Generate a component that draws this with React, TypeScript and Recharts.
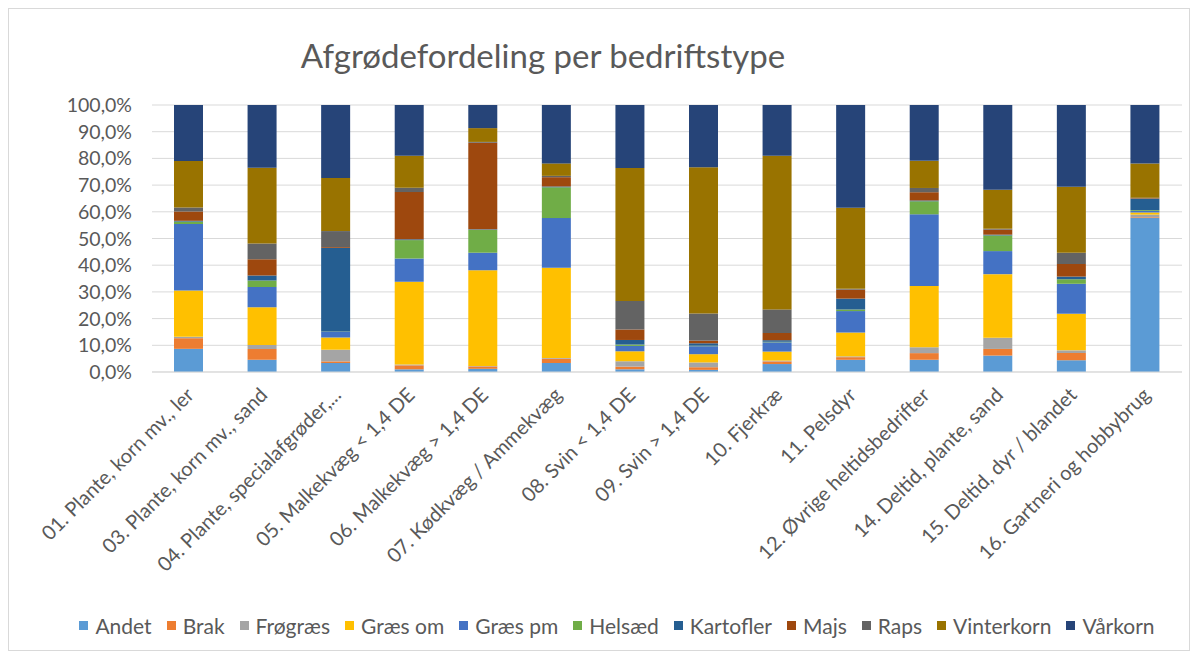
import React from 'react';
import { BarChart, Bar, XAxis, YAxis, CartesianGrid } from 'recharts';

const categories = [
  '01. Plante, korn mv., ler',
  '03. Plante, korn mv., sand',
  '04. Plante, specialafgrøder,...',
  '05. Malkekvæg < 1,4 DE',
  '06. Malkekvæg > 1,4 DE',
  '07. Kødkvæg / Ammekvæg',
  '08. Svin < 1,4 DE',
  '09. Svin > 1,4 DE',
  '10. Fjerkræ',
  '11. Pelsdyr',
  '12. Øvrige heltidsbedrifter',
  '14. Deltid, plante, sand',
  '15. Deltid, dyr / blandet',
  '16. Gartneri og hobbybrug',
];

// andel i procent, læst af figuren
const andet = [8.7, 4.6, 3.4, 1.0, 1.2, 3.4, 1.0, 0.8, 3.0, 4.6, 4.6, 6.2, 4.4, 58.0];
const brak = [4.0, 4.0, 0.6, 1.5, 0.9, 1.6, 1.0, 1.0, 1.0, 1.0, 2.5, 2.5, 2.7, 0.3];
const froegraes = [0.5, 1.5, 4.4, 0.3, 0.2, 0.3, 2.0, 1.8, 0.3, 0.3, 2.2, 4.2, 1.0, 1.0];
const graesOm = [17.4, 14.0, 4.6, 31.0, 36.0, 34.0, 3.7, 3.1, 3.4, 9.0, 23.0, 24.0, 13.7, 0.8];
const graesPm = [25.0, 7.6, 2.2, 8.7, 6.6, 18.7, 2.0, 3.0, 3.5, 8.1, 27.0, 8.7, 11.2, 0.6];
const helsaed = [0.9, 2.4, 0.1, 6.9, 8.6, 11.6, 0.5, 0.2, 0.2, 0.6, 4.9, 5.9, 1.7, 0.3];
const kartofler = [0.3, 1.9, 31.5, 0.3, 0.2, 0.3, 1.7, 0.9, 0.6, 4.1, 0.3, 0.3, 1.0, 4.3];
const majs = [3.5, 6.0, 0.3, 17.7, 32.6, 3.5, 3.9, 1.0, 2.7, 3.4, 3.1, 1.9, 4.7, 0.2];
const raps = [1.5, 5.9, 6.0, 1.6, 0.3, 0.5, 10.6, 10.2, 8.9, 0.3, 1.6, 0.3, 4.2, 0.2];
const vinterkorn = [17.5, 28.2, 20.0, 12.0, 5.2, 4.7, 49.4, 55.0, 58.0, 30.6, 10.2, 14.7, 24.7, 12.9];
const vaarkorn = [21.0, 23.4, 27.5, 19.0, 8.7, 22.0, 23.4, 23.4, 19.1, 38.8, 21.0, 32.0, 30.6, 22.0];

const yTicks = [0, 0.1, 0.2, 0.3, 0.4, 0.5, 0.6, 0.7, 0.8, 0.9, 1];

const series = [
  { key: 'Andet', values: andet, color: '#5B9BD5' },
  { key: 'Brak', values: brak, color: '#ED7D31' },
  { key: 'Frøgræs', values: froegraes, color: '#A5A5A5' },
  { key: 'Græs om', values: graesOm, color: '#FFC000' },
  { key: 'Græs pm', values: graesPm, color: '#4472C4' },
  { key: 'Helsæd', values: helsaed, color: '#70AD47' },
  { key: 'Kartofler', values: kartofler, color: '#255E91' },
  { key: 'Majs', values: majs, color: '#9E480E' },
  { key: 'Raps', values: raps, color: '#636363' },
  { key: 'Vinterkorn', values: vinterkorn, color: '#997300' },
  { key: 'Vårkorn', values: vaarkorn, color: '#264478' },
];

const data = categories.map((name, i) => {
  const row: Record<string, string | number> = { name };
  series.forEach((s) => {
    row[s.key] = s.values[i];
  });
  return row;
});

const FONT = 'Lato, "Noto Sans", sans-serif';
const TEXT = '#595959';

const AngledTick = (props: any) => {
  const { x, y, payload } = props;
  return (
    <g transform={`translate(${x},${y})`}>
      <text x={-7} y={0} dy={16} textAnchor="end" transform="rotate(-45)" fill={TEXT} fontSize={20} fontFamily={FONT}>
        {payload.value}
      </text>
    </g>
  );
};

const PctTick = (props: any) => {
  const { x, y, payload } = props;
  return (
    <text x={x - 12} y={y} dy={7} textAnchor="end" fill={TEXT} fontSize={19.5} fontFamily={FONT}>
      {(payload.value * 100).toFixed(1).replace('.', ',') + '%'}
    </text>
  );
};

const App: React.FC = () => {
  return (
    <div style={{ position: 'relative', width: 1180, height: 641, border: '1px solid #d9d9d9', background: '#fff', fontFamily: FONT }}>
      <div style={{ position: 'absolute', top: 26, left: 0, width: 1068, textAlign: 'center', fontSize: 33, color: TEXT }}>
        Afgrødefordeling per bedriftstype
      </div>

      <BarChart
        width={1180}
        height={641}
        data={data}
        stackOffset="expand"
        margin={{ top: 96, right: 7, left: 73, bottom: 0 }}
      >
        <CartesianGrid vertical={false} stroke="#d9d9d9" />
        <XAxis
          dataKey="name"
          interval={0}
          tick={<AngledTick />}
          tickLine={false}
          axisLine={{ stroke: '#d9d9d9' }}
          height={278}
        />
        <YAxis
          domain={[0, 1]}
          ticks={yTicks}
          interval={0}
          width={70}
          tickLine={false}
          axisLine={false}
          tick={<PctTick />}
        />
        {series.map((s) => (
          <Bar key={s.key} dataKey={s.key} stackId="a" fill={s.color} barSize={29} isAnimationActive={false} />
        ))}
      </BarChart>

      {/* legend */}
      <div style={{ position: 'absolute', top: 604, left: 0, width: 1216, display: 'flex', justifyContent: 'center', gap: 15, fontSize: 21, color: TEXT }}>
        {series.map((s) => (
          <div key={s.key} style={{ display: 'flex', alignItems: 'center', gap: 7 }}>
            <span style={{ display: 'inline-block', width: 9, height: 9, background: s.color }} />
            <span>{s.key}</span>
          </div>
        ))}
      </div>
    </div>
  );
};

export default App;
